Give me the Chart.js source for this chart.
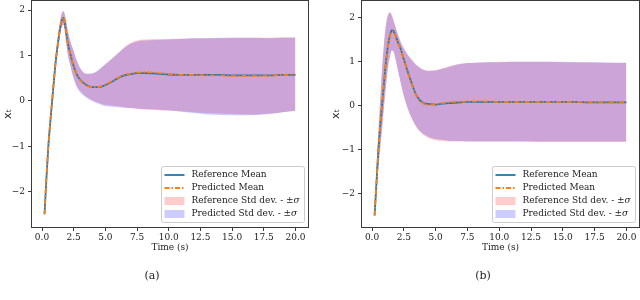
<!DOCTYPE html>
<html>
<head>
<meta charset="utf-8">
<script src="https://cdn.jsdelivr.net/npm/chart.js@4.4.1/dist/chart.umd.min.js"></script>
<style>
  html, body { margin: 0; padding: 0; background: #fff; }
  #wrap { position: relative; width: 640px; height: 300px; overflow: hidden; }
  .panel { position: absolute; top: 0; width: 320px; height: 300px; }
  .caption {
    position: absolute; top: 269px; width: 40px; margin-left: -20px;
    text-align: center; font: 11px 'DejaVu Serif'; line-height: 14px; color: #222;
  }
</style>
</head>
<body>
<div id="wrap">
  <div class="panel" style="left:0"><canvas id="chartA" width="320" height="300"></canvas></div>
  <div class="panel" style="left:320px"><canvas id="chartB" width="320" height="300"></canvas></div>
  <div class="caption" style="left:152px">(a)</div>
  <div class="caption" style="left:483px">(b)</div>
</div>
<script>
// ==========================================
// Mean / std-dev comparison, two panels
// ==========================================

// ---- data ----
const timeS = [0.2, 0.35, 0.5, 0.65, 0.8, 0.95, 1.1, 1.25, 1.4, 1.55, 1.7, 1.85, 2.0, 2.25, 2.5, 2.75, 3.0, 3.5, 4.0, 4.5,
               5.0, 5.5, 6.0, 6.5, 7.0, 7.5, 8.0, 9, 10, 11, 12, 13, 14, 15, 16, 17, 18, 19, 20];
const xTicks = [0, 2.5, 5, 7.5, 10, 12.5, 15, 17.5, 20];
const yTicks = [-2, -1, 0, 1, 2];

// panel (a)
const refMeanA  = [-2.5, -1.7, -1.0, -0.48, 0.0, 0.48, 0.92, 1.25, 1.55, 1.76, 1.83, 1.62, 1.33, 1.02, 0.76, 0.58, 0.47, 0.35, 0.3, 0.3,
                   0.35, 0.42, 0.5, 0.56, 0.59, 0.61, 0.61, 0.6, 0.58, 0.57, 0.57, 0.57, 0.57, 0.56, 0.56, 0.56, 0.56, 0.57, 0.57];
const predMeanA = [-2.5, -1.69, -1.0, -0.47, 0.01, 0.48, 0.92, 1.26, 1.56, 1.77, 1.84, 1.63, 1.33, 1.02, 0.76, 0.57, 0.46, 0.34, 0.3, 0.31,
                   0.36, 0.43, 0.51, 0.57, 0.6, 0.62, 0.63, 0.62, 0.59, 0.57, 0.57, 0.56, 0.56, 0.55, 0.55, 0.55, 0.56, 0.57, 0.58];
const refUpA    = [-2.45, -1.6, -0.9, -0.35, 0.12, 0.6, 1.05, 1.42, 1.72, 1.93, 1.98, 1.85, 1.6, 1.3, 1.1, 0.88, 0.72, 0.59, 0.6, 0.68,
                   0.8, 0.92, 1.05, 1.18, 1.28, 1.33, 1.35, 1.36, 1.37, 1.37, 1.38, 1.38, 1.38, 1.39, 1.39, 1.39, 1.39, 1.4, 1.4];
const refLoA    = [-2.55, -1.8, -1.1, -0.6, -0.12, 0.36, 0.8, 1.12, 1.42, 1.62, 1.68, 1.42, 1.08, 0.76, 0.5, 0.32, 0.22, 0.09, 0.01, -0.05,
                   -0.09, -0.1, -0.12, -0.14, -0.16, -0.18, -0.19, -0.2, -0.22, -0.23, -0.25, -0.27, -0.28, -0.29, -0.3, -0.3, -0.28, -0.25, -0.22];
const predUpA   = [-2.46, -1.61, -0.91, -0.36, 0.11, 0.59, 1.04, 1.41, 1.71, 1.92, 1.97, 1.84, 1.6, 1.31, 1.1, 0.89, 0.73, 0.6, 0.61, 0.69,
                   0.81, 0.93, 1.05, 1.17, 1.26, 1.31, 1.33, 1.34, 1.35, 1.37, 1.38, 1.38, 1.39, 1.39, 1.39, 1.39, 1.38, 1.39, 1.39];
const predLoA   = [-2.56, -1.81, -1.11, -0.61, -0.13, 0.35, 0.79, 1.11, 1.41, 1.61, 1.67, 1.41, 1.07, 0.75, 0.49, 0.3, 0.19, 0.07, -0.01, -0.07,
                   -0.12, -0.13, -0.14, -0.15, -0.16, -0.17, -0.18, -0.19, -0.21, -0.24, -0.27, -0.3, -0.31, -0.32, -0.32, -0.31, -0.29, -0.25, -0.22];

// panel (b)
const refMeanB  = [-2.5, -1.75, -1.0, -0.45, 0.05, 0.55, 1.0, 1.35, 1.58, 1.7, 1.68, 1.58, 1.46, 1.28, 1.05, 0.82, 0.6, 0.22, 0.06, 0.03,
                   0.02, 0.04, 0.05, 0.06, 0.07, 0.08, 0.08, 0.08, 0.08, 0.08, 0.08, 0.08, 0.08, 0.08, 0.08, 0.07, 0.07, 0.07, 0.07];
const predMeanB = [-2.5, -1.74, -1.0, -0.44, 0.06, 0.55, 0.99, 1.33, 1.56, 1.68, 1.67, 1.57, 1.45, 1.27, 1.04, 0.81, 0.58, 0.21, 0.05, 0.01,
                   0.03, 0.05, 0.07, 0.08, 0.08, 0.09, 0.09, 0.09, 0.08, 0.08, 0.08, 0.08, 0.08, 0.08, 0.08, 0.08, 0.07, 0.07, 0.07];
const refUpB    = [-2.45, -1.45, -0.6, 0.2, 0.9, 1.45, 1.85, 2.05, 2.12, 2.05, 1.92, 1.78, 1.65, 1.45, 1.3, 1.18, 1.08, 0.92, 0.82, 0.79,
                   0.8, 0.84, 0.88, 0.92, 0.95, 0.96, 0.97, 0.98, 0.99, 0.99, 0.99, 0.99, 0.99, 0.98, 0.98, 0.98, 0.97, 0.97, 0.97];
const refLoB    = [-2.55, -2.0, -1.4, -0.95, -0.5, 0.0, 0.45, 0.85, 1.1, 1.25, 1.22, 1.05, 0.85, 0.52, 0.22, -0.02, -0.22, -0.5, -0.66, -0.75,
                   -0.79, -0.81, -0.82, -0.82, -0.82, -0.82, -0.82, -0.82, -0.82, -0.82, -0.82, -0.83, -0.83, -0.83, -0.83, -0.83, -0.83, -0.83, -0.83];
const predUpB   = [-2.46, -1.46, -0.62, 0.18, 0.88, 1.44, 1.84, 2.04, 2.11, 2.04, 1.91, 1.77, 1.64, 1.44, 1.29, 1.17, 1.07, 0.91, 0.81, 0.78,
                   0.79, 0.83, 0.87, 0.91, 0.94, 0.96, 0.97, 0.98, 0.98, 0.99, 0.99, 0.99, 0.99, 0.99, 0.98, 0.98, 0.98, 0.97, 0.97];
const predLoB   = [-2.56, -2.01, -1.41, -0.96, -0.51, -0.01, 0.44, 0.84, 1.09, 1.24, 1.21, 1.04, 0.84, 0.51, 0.21, -0.03, -0.21, -0.49, -0.64, -0.72,
                   -0.76, -0.78, -0.8, -0.81, -0.81, -0.82, -0.82, -0.82, -0.82, -0.82, -0.82, -0.82, -0.82, -0.82, -0.82, -0.82, -0.82, -0.82, -0.82];

// ---- styling ----
const BLUE = '#1f77b4';
const ORANGE = '#ff7f0e';
const RED_BAND = 'rgba(255, 0, 0, 0.2)';
const BLUE_BAND = 'rgba(0, 0, 255, 0.2)';
const NONE = 'rgba(0, 0, 0, 0)';
const TEXT = '#222';
const SERIF = "'DejaVu Serif', serif";
const TICK_FONT = { family: SERIF, size: 9 };
const LEGEND_FONT = "9px 'DejaVu Serif'";
const LEGEND_ITALIC = "italic 9px 'DejaVu Serif'";

function pts(ys) {
    return timeS.map((t, i) => ({ x: t, y: ys[i] }));
}

function fmtY(v) {
    return v < 0 ? '\u2212' + Math.abs(v) : String(v);
}

/**
 * Datasets: index 0 is painted last (on top)
 */
function makeDatasets(s) {
    return [
        { data: pts(s.predMean), borderColor: ORANGE, borderWidth: 1.8, borderDash: [5, 2, 1.5, 2],
          legend: { rank: 1, kind: 'line', text: 'Predicted Mean' } },
        { data: pts(s.refMean), borderColor: BLUE, borderWidth: 1.8,
          legend: { rank: 0, kind: 'line', text: 'Reference Mean' } },
        { data: pts(s.predUp), borderColor: NONE, borderWidth: 0, fill: '+1', backgroundColor: BLUE_BAND,
          legend: { rank: 3, kind: 'patch', text: 'Predicted Std dev. - \u00b1', sigma: true } },
        { data: pts(s.predLo), borderColor: NONE, borderWidth: 0 },
        { data: pts(s.refUp), borderColor: NONE, borderWidth: 0, fill: '+1', backgroundColor: RED_BAND,
          legend: { rank: 2, kind: 'patch', text: 'Reference Std dev. - \u00b1', sigma: true } },
        { data: pts(s.refLo), borderColor: NONE, borderWidth: 0 }
    ];
}

function drawLegend(chart, r, b) {
    const ctx = chart.ctx;
    const items = chart.data.datasets
        .filter(d => d.legend)
        .map(d => Object.assign({ color: d.borderColor, fillColor: d.backgroundColor, dash: d.borderDash }, d.legend))
        .sort((p, q) => p.rank - q.rank);

    const widths = items.map(it => {
        ctx.font = LEGEND_FONT;
        let w = ctx.measureText(it.text).width;
        if (it.sigma) {
            ctx.font = LEGEND_ITALIC;
            w += ctx.measureText('\u03c3').width;
        }
        return w;
    });
    const boxW = Math.round(30 + Math.max(...widths) + 5);
    const boxH = 56;
    const x0 = r - 4 - boxW + 0.5;
    const y0 = b - 5 - boxH + 0.5;

    ctx.beginPath();
    if (ctx.roundRect) ctx.roundRect(x0, y0, boxW, boxH, 2);
    else ctx.rect(x0, y0, boxW, boxH);
    ctx.fillStyle = 'rgba(255, 255, 255, 0.8)';
    ctx.fill();
    ctx.strokeStyle = '#cccccc';
    ctx.lineWidth = 1;
    ctx.stroke();

    items.forEach((it, i) => {
        const y = Math.round(y0 + 8 + i * 13);
        if (it.kind === 'line') {
            ctx.save();
            ctx.strokeStyle = it.color;
            ctx.lineWidth = 1.8;
            ctx.setLineDash(it.dash || []);
            ctx.beginPath();
            ctx.moveTo(x0 + 3, y);
            ctx.lineTo(x0 + 23, y);
            ctx.stroke();
            ctx.restore();
        } else {
            ctx.fillStyle = it.fillColor;
            ctx.fillRect(x0 + 3, y - 4, 20, 8);
        }
        ctx.fillStyle = TEXT;
        ctx.textBaseline = 'middle';
        ctx.textAlign = 'left';
        ctx.font = LEGEND_FONT;
        ctx.fillText(it.text, x0 + 30, y);
        if (it.sigma) {
            const w = ctx.measureText(it.text).width;
            ctx.font = LEGEND_ITALIC;
            ctx.fillText('\u03c3', x0 + 30 + w, y);
        }
    });
}

// axes frame (all four sides) + legend inside the plot
const panelDecor = {
    id: 'panelDecor',
    afterDatasetsDraw(chart) {
        const { ctx, chartArea: a } = chart;
        const l = Math.round(a.left), t = Math.round(a.top);
        const r = Math.round(a.right), b = Math.round(a.bottom);
        ctx.save();
        ctx.strokeStyle = '#3a3a3a';
        ctx.lineWidth = 1;
        ctx.strokeRect(l - 0.5, t - 0.5, r - l + 1, b - t + 1);
        drawLegend(chart, r, b);
        ctx.restore();
    }
};

function makeChart(canvasId, series, cfg) {
    const ctx = document.getElementById(canvasId);
    return new Chart(ctx, {
        type: 'line',
        data: { datasets: makeDatasets(series) },
        options: {
            responsive: false,
            animation: false,
            events: [],
            layout: { padding: { left: cfg.padLeft, right: cfg.padRight, top: 1, bottom: 47 } },
            elements: {
                point: { radius: 0 },
                line: { cubicInterpolationMode: 'monotone', fill: false }
            },
            plugins: {
                legend: { display: false },
                tooltip: { enabled: false },
                filler: { propagate: false }
            },
            scales: {
                x: {
                    type: 'linear',
                    min: -0.79,
                    max: 20.99,
                    afterBuildTicks: s => { s.ticks = xTicks.map(v => ({ value: v })); },
                    afterFit: s => { s.height = 26; s.paddingLeft = 0; s.paddingRight = 0; },
                    border: { display: false },
                    grid: { drawOnChartArea: false, tickLength: 4, tickColor: '#3a3a3a' },
                    ticks: {
                        autoSkip: false, maxRotation: 0, padding: 1,
                        font: TICK_FONT, color: TEXT,
                        callback: v => Number(v).toFixed(1)
                    },
                    title: { display: true, text: 'Time (s)', font: TICK_FONT, color: TEXT, padding: { top: 0, bottom: 0 } }
                },
                y: {
                    type: 'linear',
                    min: cfg.yMin,
                    max: cfg.yMax,
                    afterBuildTicks: s => { s.ticks = yTicks.map(v => ({ value: v })); },
                    afterFit: s => { s.width = cfg.yWidth; s.paddingTop = 0; s.paddingBottom = 0; },
                    border: { display: false },
                    grid: { drawOnChartArea: false, tickLength: 4, tickColor: '#3a3a3a' },
                    ticks: { padding: 3, font: TICK_FONT, color: TEXT, callback: v => fmtY(v) },
                    title: {
                        display: true, text: 'x\u209c', color: TEXT,
                        font: { family: "'DejaVu Sans', sans-serif", size: 11 },
                        padding: { top: 2, bottom: 0 }
                    }
                }
            }
        },
        plugins: [panelDecor]
    });
}

makeChart('chartA',
    { refMean: refMeanA, predMean: predMeanA, refUp: refUpA, refLo: refLoA, predUp: predUpA, predLo: predLoA },
    { padLeft: 0, padRight: 12, yWidth: 32, yMin: -2.78, yMax: 2.2 });

makeChart('chartB',
    { refMean: refMeanB, predMean: predMeanB, refUp: refUpB, refLo: refLoB, predUp: predUpB, predLo: predLoB },
    { padLeft: 8, padRight: 1, yWidth: 34, yMin: -2.76, yMax: 2.37 });
</script>
</body>
</html>
